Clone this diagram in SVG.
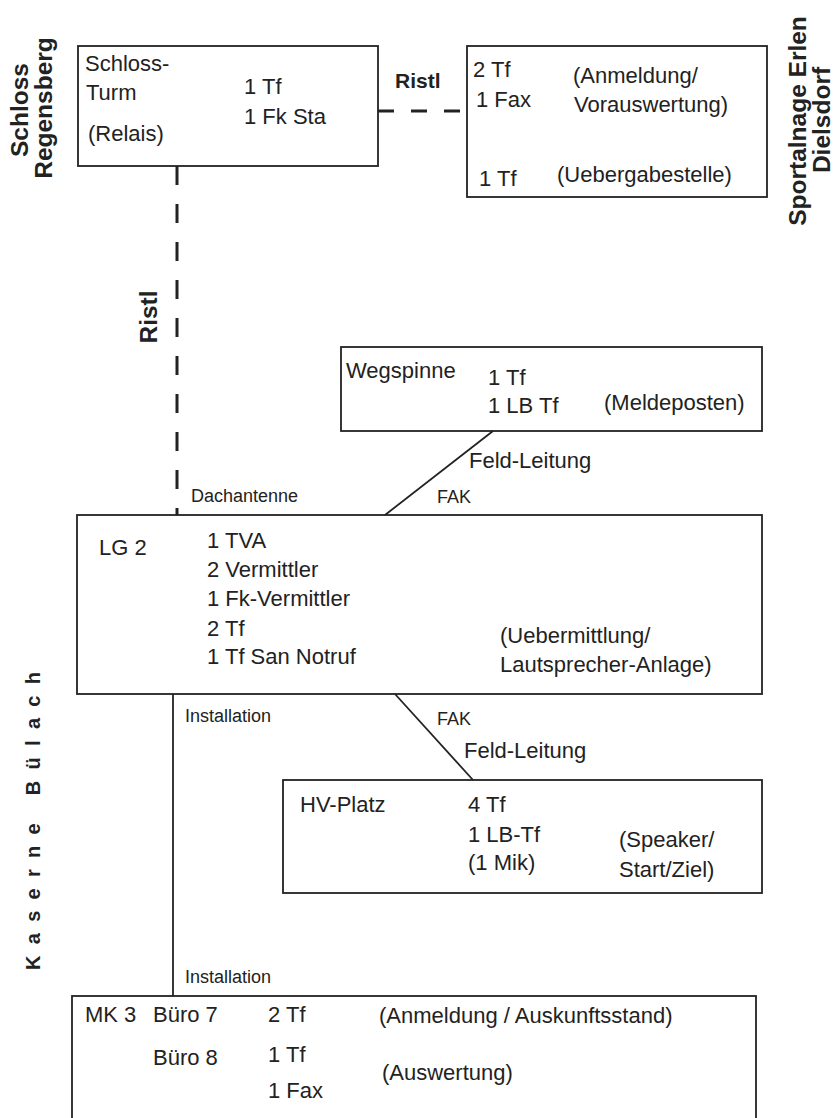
<svg xmlns="http://www.w3.org/2000/svg" width="834" height="1118" viewBox="0 0 834 1118">
<style>
.box{fill:none;stroke:#222;stroke-width:1.8}
.t{font-family:"Liberation Sans",Arial,sans-serif;font-size:22px;fill:#222}
.s{font-family:"Liberation Sans",Arial,sans-serif;font-size:18px;fill:#222}
.b{font-family:"Liberation Sans",Arial,sans-serif;font-size:24.5px;font-weight:bold;fill:#222}
.ln{fill:none;stroke:#222;stroke-width:1.8}
.dash{fill:none;stroke:#222;stroke-width:3}
</style>
<rect width="834" height="1118" fill="#fff"/>

<g id="side-labels">
  <text class="b" text-anchor="middle" transform="translate(28,110) rotate(-90)">Schloss</text>
  <text class="b" text-anchor="middle" transform="translate(52,108) rotate(-90)">Regensberg</text>
  <text class="b" text-anchor="middle" transform="translate(806,121) rotate(-90)">Sportalnage Erlen</text>
  <text class="b" text-anchor="middle" transform="translate(830,120) rotate(-90)">Dielsdorf</text>
  <text class="b" style="font-size:20px" text-anchor="middle" textLength="298" lengthAdjust="spacing" transform="translate(40,821) rotate(-90)">Kaserne Bülach</text>
</g>

<g id="connectors">
  <path class="dash" d="M378,111 H467" stroke-dasharray="16 17"/>
  <path class="dash" d="M177,166 V515" stroke-dasharray="19 19"/>
  <path class="ln" d="M493,431 L385,515"/>
  <path class="ln" d="M395,694 L473,780"/>
  <path class="ln" d="M173,694 V996"/>
  <text class="b" style="font-size:21px" x="395" y="88">Ristl</text>
  <text class="b" text-anchor="middle" transform="translate(157,317) rotate(-90)">Ristl</text>
  <text class="s" x="191" y="502">Dachantenne</text>
  <text class="s" x="437" y="503">FAK</text>
  <text class="t" x="469" y="468">Feld-Leitung</text>
  <text class="s" x="437" y="725">FAK</text>
  <text class="t" x="464" y="758">Feld-Leitung</text>
  <text class="s" x="185" y="722">Installation</text>
  <text class="s" x="185" y="983">Installation</text>
</g>

<g id="schlossturm">
  <rect class="box" x="78" y="46" width="300" height="120"/>
  <text class="t" x="85" y="71">Schloss-</text>
  <text class="t" x="86" y="100">Turm</text>
  <text class="t" x="88" y="141">(Relais)</text>
  <text class="t" x="244" y="94">1 Tf</text>
  <text class="t" x="244" y="124">1 Fk Sta</text>
</g>

<g id="sportanlage">
  <rect class="box" x="467" y="46" width="300" height="151"/>
  <text class="t" x="473" y="77">2 Tf</text>
  <text class="t" x="476" y="107">1 Fax</text>
  <text class="t" x="573" y="83">(Anmeldung/</text>
  <text class="t" x="574" y="112">Vorauswertung)</text>
  <text class="t" x="479" y="186">1 Tf</text>
  <text class="t" x="557" y="182">(Uebergabestelle)</text>
</g>

<g id="wegspinne">
  <rect class="box" x="341" y="347" width="421" height="84"/>
  <text class="t" x="346" y="378">Wegspinne</text>
  <text class="t" x="488" y="385">1 Tf</text>
  <text class="t" x="488" y="413">1 LB Tf</text>
  <text class="t" x="604" y="410">(Meldeposten)</text>
</g>

<g id="lg2">
  <rect class="box" x="77" y="515" width="685" height="179"/>
  <text class="t" x="99" y="555">LG 2</text>
  <text class="t" x="207" y="548">1 TVA</text>
  <text class="t" x="207" y="577">2 Vermittler</text>
  <text class="t" x="207" y="606">1 Fk-Vermittler</text>
  <text class="t" x="207" y="636">2 Tf</text>
  <text class="t" x="207" y="664">1 Tf San Notruf</text>
  <text class="t" x="500" y="643">(Uebermittlung/</text>
  <text class="t" x="500" y="672">Lautsprecher-Anlage)</text>
</g>

<g id="hv-platz">
  <rect class="box" x="283" y="780" width="479" height="113"/>
  <text class="t" x="300" y="812">HV-Platz</text>
  <text class="t" x="468" y="812">4 Tf</text>
  <text class="t" x="468" y="842">1 LB-Tf</text>
  <text class="t" x="468" y="870">(1 Mik)</text>
  <text class="t" x="619" y="847">(Speaker/</text>
  <text class="t" x="619" y="877">Start/Ziel)</text>
</g>

<g id="mk3">
  <rect class="box" x="72" y="996" width="684" height="140"/>
  <text class="t" x="85" y="1022">MK 3</text>
  <text class="t" x="153" y="1022">Büro 7</text>
  <text class="t" x="268" y="1022">2 Tf</text>
  <text class="t" x="379" y="1023">(Anmeldung / Auskunftsstand)</text>
  <text class="t" x="153" y="1065">Büro 8</text>
  <text class="t" x="268" y="1062">1 Tf</text>
  <text class="t" x="268" y="1098">1 Fax</text>
  <text class="t" x="382" y="1080">(Auswertung)</text>
</g>
</svg>
